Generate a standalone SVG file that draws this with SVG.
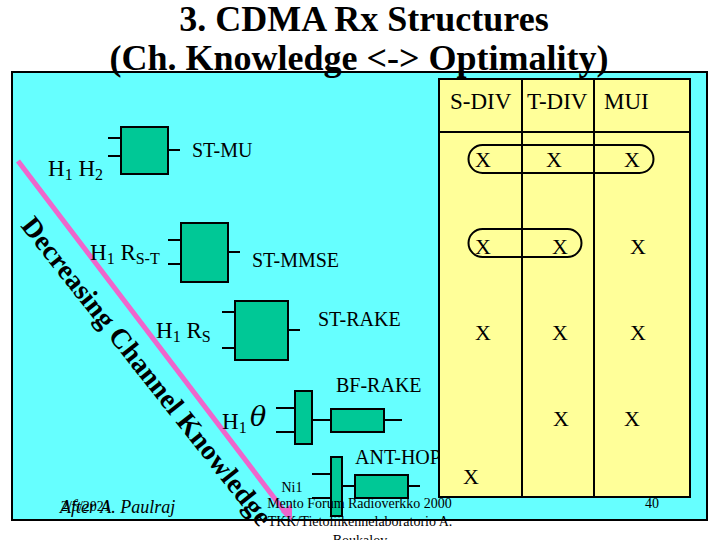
<svg xmlns="http://www.w3.org/2000/svg" width="720" height="540" viewBox="0 0 720 540">
<style>
text{font-family:"Liberation Serif","Times New Roman",serif;fill:#000}
.t{font-size:36px;font-weight:bold;text-anchor:middle}
.l{font-size:20px}
.h{font-size:23px}
.k{font-size:23px}
.s{font-size:16px}
.x{font-size:22px;text-anchor:middle}
.f{font-size:14px;text-anchor:middle}
.b{fill:#00c896;stroke:#000;stroke-width:2}
.w{stroke:#000;stroke-width:2;fill:none}
.g{font-size:28px;font-weight:bold}
</style>
<rect width="720" height="540" fill="#fff"/>
<rect x="12" y="72" width="695" height="448" fill="#66ffff" stroke="#000" stroke-width="2"/>
<g id="ant-hop-label"><text class="l" x="355" y="464">ANT-HOP</text></g>
<g id="table">
<rect x="439" y="79" width="251" height="418" fill="#ffff99" stroke="#000" stroke-width="2"/>
<path class="w" d="M439 132H690M522 79V497M594 79V497"/>
<rect x="468.500" y="145" width="185" height="28" rx="14" class="w"/>
<rect x="468.500" y="229" width="113" height="28" rx="14" class="w"/>
<text class="k" x="450" y="109">S-DIV</text><text class="k" x="527" y="109">T-DIV</text><text class="k" x="604" y="109">MUI</text>
<text class="x" x="483" y="167">X</text><text class="x" x="554" y="167">X</text><text class="x" x="632" y="167">X</text>
<text class="x" x="483" y="254">X</text><text class="x" x="560" y="254">X</text><text class="x" x="638" y="254">X</text>
<text class="x" x="483" y="340">X</text><text class="x" x="560" y="340">X</text><text class="x" x="638" y="340">X</text>
<text class="x" x="561" y="426">X</text><text class="x" x="632" y="426">X</text>
<text class="x" x="471" y="484">X</text>
</g>
<text class="t" x="364" y="31">3. CDMA Rx Structures</text>
<text class="t" x="359" y="70">(Ch. Knowledge &lt;-&gt; Optimality)</text>
<g id="connectors">
<path d="M18 161L288 516" stroke="#ee66cc" stroke-width="5" fill="none"/>
<polygon points="281,512 292,503 292,521" fill="#ee66cc"/>
<path class="w" d="M108 138H121M108 156H121M168 150H180M168 240H181M168 264H181M228 252H240M222 312H235M222 348H235M288 330H300M276 408H295M276 432H295M312 420H331M384 420H402M312 474H331M312 498H331M343 486H355M408 486H420"/>
</g>
<g id="st-mu"><rect class="b" x="121" y="127" width="47" height="47"/><text class="l" x="192" y="157">ST-MU</text><text class="h" x="48" y="176">H<tspan class="s" dy="4">1</tspan><tspan dy="-4"> H</tspan><tspan class="s" dy="4">2</tspan></text></g>
<g id="st-mmse"><rect class="b" x="181" y="223" width="47" height="59"/><text class="l" x="252" y="267">ST-MMSE</text><text class="h" x="90" y="260">H<tspan class="s" dy="4">1</tspan><tspan dy="-4"> R</tspan><tspan class="s" dy="4">S-T</tspan></text></g>
<g id="st-rake"><rect class="b" x="235" y="301" width="53" height="59"/><text class="l" x="318" y="326">ST-RAKE</text><text class="h" x="156" y="338">H<tspan class="s" dy="4">1</tspan><tspan dy="-4"> R</tspan><tspan class="s" dy="4">S</tspan></text></g>
<g id="bf-rake"><rect class="b" x="295" y="391" width="17" height="53"/><rect class="b" x="331" y="409" width="53" height="23"/><text class="l" x="336" y="392">BF-RAKE</text><text class="h" x="222" y="429">H<tspan class="s" dy="4">1</tspan></text><text x="250" y="426" font-size="27" font-style="italic" style="font-family:'DejaVu Serif','Liberation Serif',serif">θ</text></g>
<g id="ant-hop"><rect class="b" x="331" y="457" width="11" height="59"/><rect class="b" x="355" y="475" width="53" height="23"/></g>
<text class="g" transform="translate(20 226) rotate(51.6)" textLength="385" lengthAdjust="spacing">Decreasing Channel Knowledge</text>
<text x="60" y="513" font-size="18" font-style="italic">After A. Paulraj</text>
<text x="61" y="511" font-size="14">2/5/2021</text>
<text class="f" x="292" y="492">Ni1</text>
<text class="f" x="359.500" y="508">Mento Forum Radioverkko  2000</text>
<text class="f" x="360" y="526">TKK/Tietoliikennelaboratorio   A.</text>
<text class="f" x="360" y="545">Boukalov</text>
<text class="f" x="652" y="508">40</text>
</svg>
